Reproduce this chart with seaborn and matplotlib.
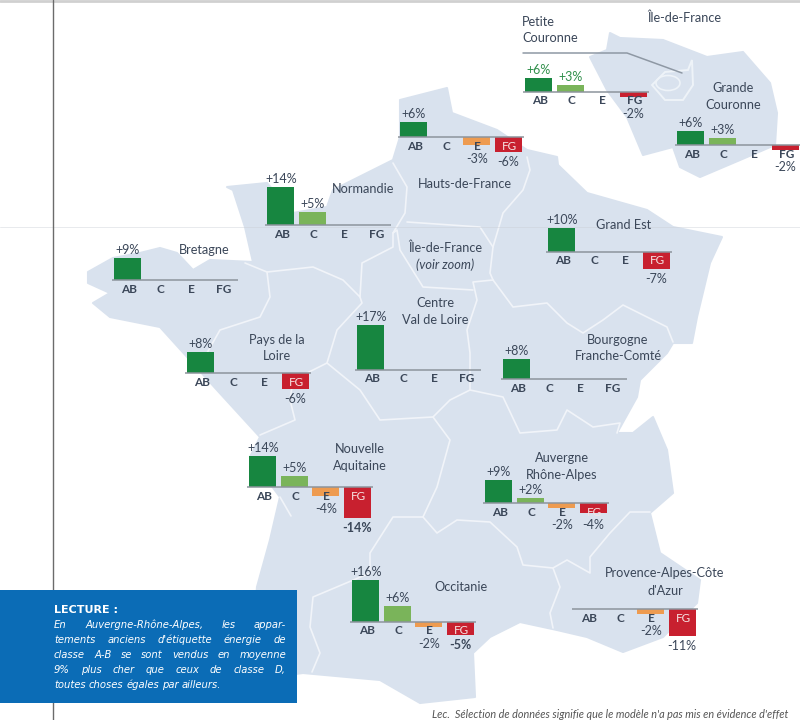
import matplotlib
matplotlib.use('Agg')
import matplotlib.pyplot as plt
from matplotlib.patches import Polygon, Ellipse
import pandas as pd
import seaborn as sns

# classes and values (% vs class D)
classes = ['AB', 'C', 'E', 'FG']
regions = ['Petite Couronne', 'Grande Couronne', 'Hauts-de-France', 'Normandie', 'Bretagne',
           'Pays de la Loire', 'Centre', 'Grand Est', 'Bourgogne', 'Nouvelle Aquitaine',
           'Auvergne', 'Occitanie', 'PACA']
ab = [6, 6, 6, 14, 9, 8, 17, 10, 8, 14, 9, 16, 0]
c = [3, 3, 0, 5, 0, 0, 0, 0, 0, 5, 2, 6, 0]
e = [0, 0, -3, 0, 0, 0, 0, 0, 0, -4, -2, -2, -2]
fg = [-2, -2, -6, 0, 0, -6, 0, -7, 0, -14, -4, -5, -11]

# where each little chart sits: left of axis line, baseline y, px per %
left_px = [523, 675, 398, 265, 112, 185, 355, 546, 501, 247, 483, 350, 572]
base_px = [92, 145, 137, 225, 280, 373, 370, 252, 379, 487, 503, 622, 609]
scale_px = [2.4, 2.4, 2.5, 2.7, 2.45, 2.6, 2.65, 2.45, 2.5, 2.2, 2.55, 2.65, 2.45]

palette = {'AB': '#178640', 'C': '#7ab45a', 'E': '#ee9b50', 'FG': '#c8202f'}
map_col = '#d9e2ee'
txt_col = '#3b4759'

france = [(88, 272), (113, 258), (140, 253), (160, 248), (177, 253), (193, 270), (210, 260), (253, 262),
          (245, 227), (233, 190), (227, 187), (267, 183), (293, 213), (327, 207), (333, 190), (393, 160),
          (400, 137), (400, 100), (447, 88), (452, 113), (497, 130), (527, 150), (557, 157), (558, 165),
          (587, 193), (647, 210), (673, 227), (722, 237), (710, 263), (697, 317), (692, 343), (673, 343),
          (667, 353), (640, 380), (637, 397), (617, 433), (633, 433), (653, 417), (667, 450), (673, 493),
          (650, 513), (660, 553), (700, 580), (697, 603), (663, 637), (623, 652), (587, 637), (557, 630),
          (520, 622), (490, 637), (473, 653), (475, 697), (420, 703), (380, 680), (303, 673), (250, 680),
          (257, 587), (270, 540), (280, 497), (250, 457), (260, 437), (217, 390), (160, 327), (110, 317),
          (93, 303), (110, 293), (88, 283)]
idf = [(610, 33), (620, 38), (663, 40), (707, 57), (743, 52), (770, 83), (777, 113), (775, 145), (740, 160),
       (700, 177), (680, 167), (673, 147), (643, 155), (627, 117), (607, 90), (590, 57), (607, 50)]
borders = [
    [(245, 263), (267, 272), (270, 297), (260, 317), (220, 330), (207, 353)],
    [(267, 272), (313, 267), (343, 280), (360, 297), (362, 263), (393, 247), (393, 233), (405, 213), (407, 187), (393, 163)],
    [(360, 297), (362, 303), (337, 330), (327, 363), (323, 365), (293, 380), (290, 400), (295, 420), (260, 435)],
    [(327, 363), (360, 390), (380, 420), (433, 417), (450, 440), (437, 487), (423, 517), (393, 517), (370, 553),
     (370, 573), (313, 597), (310, 627), (320, 653), (312, 672)],
    [(433, 417), (450, 400), (470, 390), (470, 353), (467, 330), (477, 300), (473, 282), (493, 280)],
    [(473, 290), (423, 287), (400, 250), (397, 230), (393, 233)],
    [(493, 280), (490, 273), (493, 247), (480, 227), (407, 222)],
    [(493, 247), (503, 213), (523, 190), (530, 170), (527, 157)],
    [(493, 280), (513, 307), (547, 303), (567, 323), (583, 333), (603, 320), (623, 305), (667, 327), (673, 342)],
    [(470, 390), (503, 397), (520, 433), (557, 430), (567, 410), (593, 427), (620, 423), (617, 433)],
    [(423, 517), (437, 533), (457, 520), (490, 522), (517, 547), (523, 565), (553, 568), (567, 560), (590, 573),
     (590, 557), (610, 533), (630, 512), (650, 512)],
    [(553, 568), (560, 587), (550, 613), (553, 628)],
    [(280, 497), (291, 516)],
]
names = [('Île-de-France', 684, 18, 'normal'), ('Grande', 733, 88, 'normal'), ('Couronne', 733, 105, 'normal'),
         ('Hauts-de-France', 465, 184, 'normal'), ('Normandie', 363, 189, 'normal'), ('Grand Est', 624, 225, 'normal'),
         ('Bretagne', 204, 250, 'normal'), ('Île-de-France', 445, 248, 'normal'), ('(voir zoom)', 445, 265, 'italic'),
         ('Centre', 435, 303, 'normal'), ('Val de Loire', 435, 320, 'normal'), ('Pays de la', 277, 340, 'normal'),
         ('Loire', 277, 356, 'normal'), ('Bourgogne', 618, 340, 'normal'), ('Franche-Comté', 618, 356, 'normal'),
         ('Nouvelle', 360, 449, 'normal'), ('Aquitaine', 360, 466, 'normal'), ('Auvergne', 562, 458, 'normal'),
         ('Rhône-Alpes', 562, 475, 'normal'), ('Occitanie', 461, 587, 'normal'),
         ('Provence-Alpes-Côte', 665, 573, 'normal'), ("d'Azur", 665, 591, 'normal')]
box_lines = ['En Auvergne-Rhône-Alpes, les appar-', "tements anciens d'étiquette énergie de",
             'classe A-B se sont vendus en moyenne', '9% plus cher que ceux de classe D,',
             'toutes choses égales par ailleurs.']

sns.set_theme(style='white')
plt.rcParams['font.family'] = ['Lato', 'DejaVu Sans']

fig = plt.figure(figsize=(8, 7.2), dpi=100)
bg = fig.add_axes([0, 0, 1, 1])
bg.set_xlim(0, 800)
bg.set_ylim(720, 0)
bg.axis('off')

bg.add_patch(Polygon(france, closed=True, fc=map_col, ec=map_col, lw=1.5, joinstyle='round'))
bg.add_patch(Polygon(idf, closed=True, fc=map_col, ec=map_col, lw=1.5, joinstyle='round'))
for line in borders:
    bg.plot(*zip(*line), color='#f1f4f9', lw=1.2, solid_joinstyle='round')
bg.add_patch(Polygon([(652, 85), (665, 72), (688, 70), (692, 60), (693, 85), (683, 100), (665, 100)],
                     closed=True, fc='none', ec='#eef3f8', lw=1.4))
bg.add_patch(Ellipse((668, 83), 24, 15, fc='none', ec='#eef3f8', lw=1.2))

# scan marks of the page
bg.plot([0, 800], [0.8, 0.8], color='#d0d0d0', lw=2)
bg.plot([0, 800], [227, 227], color='#c9ced6', lw=0.6, alpha=0.5)
bg.plot([53, 53], [0, 720], color='#6b6b6b', lw=1)
bg.plot([523, 627, 682], [53, 53, 73], color='#8e98a4', lw=1.1)

for name, x, y, style in names:
    bg.text(x, y, name, ha='center', va='center', fontsize=9.2, color=txt_col, style=style)
bg.text(522, 22, 'Petite', ha='left', va='center', fontsize=9.2, color=txt_col)
bg.text(522, 38, 'Couronne', ha='left', va='center', fontsize=9.2, color=txt_col)

# blue reading box
bg.add_patch(Polygon([(0, 590), (297, 590), (297, 703), (0, 703)], closed=True, fc='#0b6cb6', ec='none', zorder=5))
bg.text(54, 610, 'LECTURE :', color='white', fontsize=8, fontweight='bold', va='center', zorder=6,
        family='DejaVu Sans')
renderer = fig.canvas.get_renderer()
for i, line in enumerate(box_lines):
    y = 625 + i * 15
    words = line.split()
    items = [bg.text(0, y, w, color='white', fontsize=7.2, style='italic', va='center', zorder=6,
                     family='DejaVu Sans') for w in words]
    widths = [t.get_window_extent(renderer).width for t in items]
    # last line is not justified
    gap = 3 if i == len(box_lines) - 1 else (232 - sum(widths)) / (len(words) - 1)
    x = 54
    for t, w in zip(items, widths):
        t.set_x(x)
        x += w + gap

bg.text(432, 714.5, "Lec.  Sélection de données signifie que le modèle n'a pas mis en évidence d'effet", fontsize=7.8,
        color='#555555', va='center', style='italic')

# one little seaborn bar chart per region
slot = 31.5
for i, region in enumerate(regions):
    df = pd.DataFrame({'classe': classes, 'ecart': [ab[i], c[i], e[i], fg[i]]})
    s = scale_px[i]
    span = 20
    ax = fig.add_axes([left_px[i] / 800, (720 - base_px[i] - span * s) / 720, 4 * slot / 800, 2 * span * s / 720])
    ax.patch.set_alpha(0)
    sns.barplot(data=df, x='classe', y='ecart', hue='classe', palette=palette, order=classes, hue_order=classes,
                width=0.86, saturation=1, legend=False, dodge=False, linewidth=0, ax=ax)
    ax.set_xlim(-0.5, 3.5)
    ax.set_ylim(-span, span)
    ax.axis('off')
    ax.plot([-0.5, 3.5], [0, 0], color='#8d949c', lw=1.1, zorder=5)
    for j, row in df.iterrows():
        v = row['ecart']
        big = row['classe'] == 'FG' and v <= -4
        ax.annotate(row['classe'], (j, 0), xytext=(1, -9), textcoords='offset pixels', ha='center', va='center',
                    fontsize=8.5, color='#f6e4e4' if big else txt_col, zorder=6,
                    fontweight='normal' if big else 'bold')
        if v > 0:
            off = v * s + 8
        elif v < 0:
            off = -max(22, -v * s + 10)
        else:
            continue
        bold = v in (-14,) or region == 'Occitanie' and row['classe'] == 'FG'
        col = '#2f8f4a' if region == 'Petite Couronne' and v > 0 else txt_col
        ax.annotate(f'{v:+d}%', (j, 0), xytext=(0, off), textcoords='offset pixels', ha='center', va='center',
                    fontsize=9, color=col, zorder=6, fontweight='bold' if bold else 'normal')

fig.savefig('out.png', dpi=100)
